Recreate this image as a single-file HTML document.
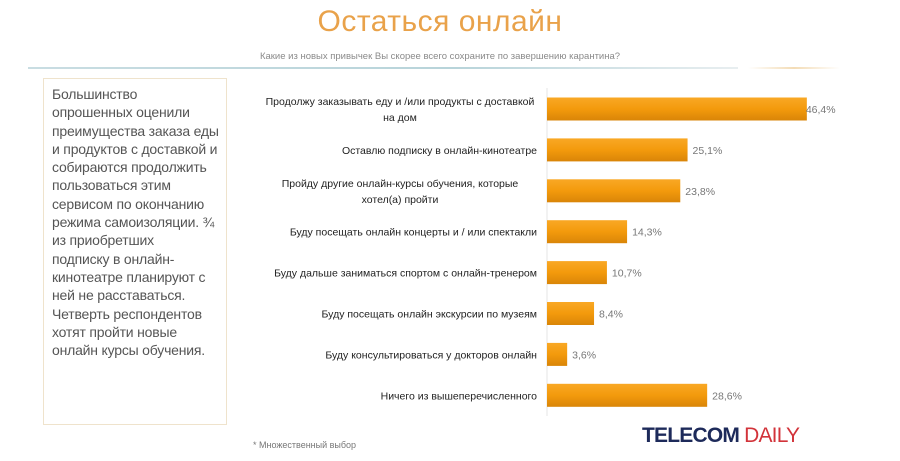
<!DOCTYPE html>
<html><head><meta charset="utf-8"><style>
body{margin:0;width:900px;height:461px;background:#fff;overflow:hidden;font-family:"Liberation Sans",sans-serif;position:relative}
.abs{position:absolute}
</style></head><body>
<div class="abs" style="left:0;width:880px;top:5px;text-align:center;font-size:30px;color:#e9a24a;letter-spacing:0.5px">Остаться онлайн</div>
<div class="abs" style="left:0;width:880px;top:51px;text-align:center;font-size:9.5px;color:#8a8a8a">Какие из новых привычек Вы скорее всего сохраните по завершению карантина?</div>
<div class="abs" style="left:28px;top:67px;width:710px;height:2px;background:linear-gradient(90deg,#c9dde2,#b8d4da 60%,#e8eef0)"></div>
<div class="abs" style="left:748px;top:67px;width:92px;height:2px;background:linear-gradient(90deg,#fff,#f3dcb6,#fff)"></div>
<div class="abs" style="left:43px;top:78px;width:184px;height:347px;border:1px solid #efe3cc;box-sizing:border-box;padding:6px 0 0 8px;font-size:14px;line-height:18.3px;color:#555;white-space:nowrap;letter-spacing:-0.2px">Большинство<br>опрошенных оценили<br>преимущества заказа еды<br>и продуктов с доставкой и<br>собираются продолжить<br>пользоваться этим<br>сервисом по окончанию<br>режима самоизоляции. ¾<br>из приобретших<br>подписку в онлайн-<br>кинотеатре планируют с<br>ней не расставаться.<br>Четверть респондентов<br>хотят пройти новые<br>онлайн курсы обучения.</div>
<svg class="abs" style="left:0;top:0" width="900" height="461">
<defs><linearGradient id="g" x1="0" y1="0" x2="0" y2="1"><stop offset="0" stop-color="#f9a825"/><stop offset="0.5" stop-color="#f39a0c"/><stop offset="1" stop-color="#d98508"/></linearGradient></defs>
<line x1="547" y1="88" x2="547" y2="416" stroke="#e6e6e6" stroke-width="1"/>
<g id="bars"></g>
</svg>
<div class="abs" style="left:253px;top:440px;font-size:9px;color:#777">* Множественный выбор</div>
<div class="abs" style="left:642px;top:424px;font-size:21px;letter-spacing:-0.8px"><b style="color:#1d2a5a">TELECOM</b> <span style="color:#d2333a">DAILY</span></div>
<script>
const categories=[["Продолжу заказывать еду и /или продукты с доставкой","на дом"],["Оставлю подписку в онлайн-кинотеатре"],["Пройду другие онлайн-курсы обучения, которые","хотел(а) пройти"],["Буду посещать онлайн концерты и / или спектакли"],["Буду дальше заниматься спортом с онлайн-тренером"],["Буду посещать онлайн экскурсии по музеям"],["Буду консультироваться у докторов онлайн"],["Ничего из вышеперечисленного"]];
const values=[46.4,25.1,23.8,14.3,10.7,8.4,3.6,28.6];
const valueLabels=["46,4%","25,1%","23,8%","14,3%","10,7%","8,4%","3,6%","28,6%"];
const NS="http://www.w3.org/2000/svg";
const x0=547,pxPer=5.6;
function xs(v){return x0+v*pxPer;}
function ys(i){return 109+i*40.9;}
const g=document.getElementById('bars');
values.forEach((v,i)=>{
 const c=ys(i);
 const r=document.createElementNS(NS,'rect');
 r.setAttribute('x',x0);r.setAttribute('y',c-11.5);r.setAttribute('width',xs(v)-x0);r.setAttribute('height',23);r.setAttribute('fill','url(#g)');
 
 
 g.appendChild(r);
 const t=document.createElementNS(NS,'text');
 t.setAttribute('x',xs(v)+(i===0?-1:5));t.setAttribute('y',c+4);t.setAttribute('font-size','10.5');t.setAttribute('fill','#777');
 t.textContent=valueLabels[i];
 
 
 g.appendChild(t);
 const lines=categories[i];
 lines.forEach((ln,j)=>{
  const l=document.createElementNS(NS,'text');
  const multi=lines.length>1;
  l.setAttribute('x',multi?400:537);
  l.setAttribute('text-anchor',multi?'middle':'end');
  l.setAttribute('y',c+4+(multi?(j-0.5)*16:0));
  l.setAttribute('font-size','10.5');l.setAttribute('fill','#222');
  l.textContent=ln;
  
  
  g.appendChild(l);
 });
});
</script>
</body></html>
